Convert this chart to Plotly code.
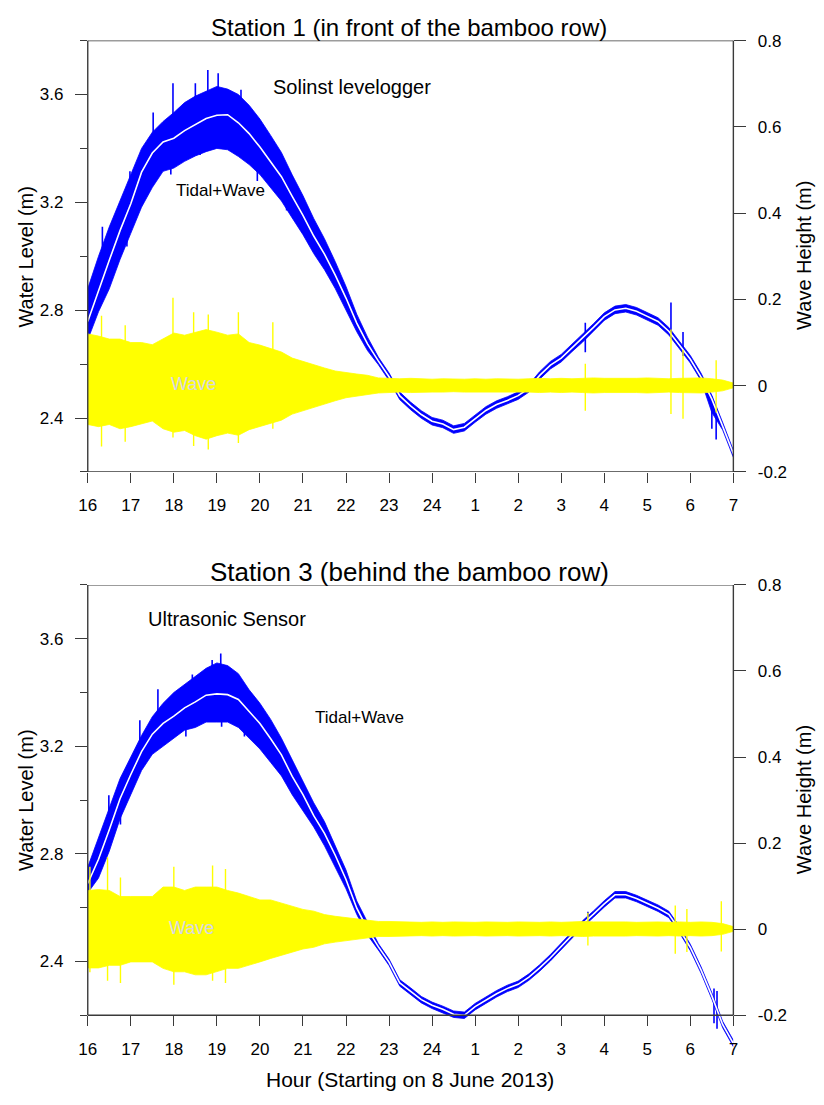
import plotly.graph_objects as go

# ---------------- data ----------------
hours = [i * 0.25 for i in range(61)]          # 0 = 16:00 ... 15 = 07:00
hour_ticks = list(range(16))
hour_labels = ['16', '17', '18', '19', '20', '21', '22', '23', '24',
               '1', '2', '3', '4', '5', '6', '7']

# Station 1 : tidal + wave (water level, m)
s1_center = [2.758, 2.875, 2.985, 3.095, 3.195, 3.312, 3.383, 3.424, 3.438, 3.466,
             3.489, 3.511, 3.523, 3.525, 3.495, 3.455, 3.405, 3.350, 3.295, 3.222,
             3.152, 3.075, 3.008, 2.930, 2.845, 2.752, 2.675, 2.612, 2.553, 2.482,
             2.445, 2.413, 2.388, 2.378, 2.357, 2.366, 2.398, 2.428, 2.450, 2.465,
             2.483, 2.510, 2.558, 2.596, 2.622, 2.660, 2.696, 2.736, 2.776, 2.801,
             2.807, 2.796, 2.777, 2.758, 2.722, 2.670, 2.618, 2.552, 2.470, 2.370,
             2.268]
s1_upper = [2.880, 3.000, 3.109, 3.206, 3.303, 3.400, 3.460, 3.500, 3.533, 3.570,
            3.594, 3.612, 3.630, 3.620, 3.600, 3.560, 3.509, 3.448, 3.385, 3.302,
            3.225, 3.140, 3.065, 2.980, 2.888, 2.785, 2.700, 2.626, 2.567, 2.496,
            2.459, 2.427, 2.402, 2.392, 2.371, 2.380, 2.412, 2.442, 2.464, 2.479,
            2.497, 2.524, 2.572, 2.610, 2.636, 2.674, 2.710, 2.750, 2.790, 2.815,
            2.821, 2.810, 2.791, 2.772, 2.736, 2.684, 2.632, 2.566, 2.484, 2.384,
            2.280]
s1_lower = [2.690, 2.794, 2.879, 2.988, 3.085, 3.182, 3.255, 3.315, 3.327, 3.352,
            3.372, 3.388, 3.400, 3.395, 3.370, 3.340, 3.303, 3.255, 3.205, 3.142,
            3.080, 3.010, 2.950, 2.880, 2.803, 2.720, 2.650, 2.598, 2.539, 2.468,
            2.431, 2.399, 2.374, 2.364, 2.343, 2.352, 2.384, 2.414, 2.436, 2.451,
            2.469, 2.496, 2.544, 2.582, 2.608, 2.646, 2.682, 2.722, 2.762, 2.787,
            2.793, 2.782, 2.763, 2.744, 2.708, 2.656, 2.604, 2.538, 2.420, 2.356,
            2.254]
# Station 1 : wave (wave height, m)
s1_wave_up = [0.120, 0.115, 0.108, 0.108, 0.100, 0.100, 0.095, 0.108, 0.122, 0.117,
              0.124, 0.130, 0.124, 0.117, 0.120, 0.100, 0.094, 0.086, 0.078, 0.064,
              0.056, 0.048, 0.041, 0.034, 0.030, 0.027, 0.024, 0.018, 0.017, 0.016,
              0.017, 0.016, 0.015, 0.016, 0.015, 0.015, 0.016, 0.015, 0.016, 0.015,
              0.015, 0.016, 0.017, 0.016, 0.017, 0.016, 0.017, 0.018, 0.017, 0.017,
              0.016, 0.017, 0.018, 0.017, 0.016, 0.017, 0.017, 0.018, 0.016, 0.013,
              0.006]
s1_wave_lo = [-0.090, -0.095, -0.090, -0.100, -0.095, -0.088, -0.082, -0.100, -0.108, -0.104,
              -0.116, -0.124, -0.116, -0.110, -0.115, -0.102, -0.095, -0.088, -0.080, -0.066,
              -0.058, -0.050, -0.043, -0.035, -0.028, -0.024, -0.020, -0.017, -0.016, -0.015,
              -0.016, -0.015, -0.015, -0.015, -0.014, -0.015, -0.015, -0.014, -0.015, -0.015,
              -0.014, -0.015, -0.016, -0.015, -0.016, -0.015, -0.016, -0.017, -0.016, -0.016,
              -0.015, -0.016, -0.017, -0.016, -0.015, -0.016, -0.016, -0.017, -0.015, -0.012,
              -0.005]
s1_blue_spike_h = [0.34, 0.91, 0.98, 1.52, 1.93, 1.98, 2.50, 2.61, 2.79, 3.03, 3.56, 3.94,
                   4.62, 11.56, 13.55, 13.83, 14.50, 14.60]
s1_blue_spike_lo = [2.950, 3.036, 3.200, 3.420, 3.303, 3.480, 3.540, 3.376, 3.560, 3.560, 3.540, 3.279,
                    3.170, 2.644, 2.700, 2.630, 2.360, 2.320]
s1_blue_spike_hi = [3.109, 3.120, 3.315, 3.533, 3.380, 3.642, 3.642, 3.440, 3.691, 3.679, 3.618, 3.380,
                    3.240, 2.753, 2.828, 2.719, 2.480, 2.440]
s1_wave_spike_h = [0.32, 0.87, 1.98, 2.46, 2.80, 3.50, 4.30, 11.56, 13.55, 13.83, 14.60]
s1_wave_spike_lo = [-0.141, -0.130, -0.120, -0.140, -0.148, -0.133, -0.100, -0.058, -0.066, -0.077, -0.062]
s1_wave_spike_hi = [0.162, 0.140, 0.204, 0.170, 0.165, 0.170, 0.147, 0.051, 0.130, 0.083, 0.059]

# Station 3 : tidal + wave (water level, m)
s3_center = [2.690, 2.780, 2.890, 3.005, 3.095, 3.180, 3.245, 3.285, 3.312, 3.343,
             3.365, 3.390, 3.395, 3.392, 3.374, 3.330, 3.285, 3.228, 3.168, 3.088,
             3.020, 2.942, 2.876, 2.795, 2.705, 2.598, 2.520, 2.455, 2.397, 2.320,
             2.290, 2.258, 2.237, 2.222, 2.204, 2.200, 2.232, 2.256, 2.280, 2.300,
             2.315, 2.342, 2.376, 2.414, 2.457, 2.500, 2.540, 2.576, 2.614, 2.648,
             2.648, 2.634, 2.616, 2.598, 2.575, 2.518, 2.452, 2.368, 2.272, 2.166,
             2.095]
s3_upper = [2.751, 2.860, 2.970, 3.080, 3.160, 3.240, 3.310, 3.360, 3.400, 3.430,
            3.460, 3.490, 3.510, 3.500, 3.470, 3.410, 3.360, 3.300, 3.230, 3.150,
            3.070, 2.990, 2.920, 2.830, 2.740, 2.625, 2.545, 2.467, 2.409, 2.332,
            2.302, 2.270, 2.249, 2.234, 2.216, 2.212, 2.244, 2.268, 2.292, 2.312,
            2.327, 2.354, 2.388, 2.426, 2.469, 2.512, 2.552, 2.588, 2.626, 2.660,
            2.660, 2.646, 2.628, 2.610, 2.587, 2.530, 2.464, 2.380, 2.284, 2.178,
            2.107]
s3_lower = [2.655, 2.710, 2.810, 2.930, 3.020, 3.110, 3.170, 3.200, 3.230, 3.260,
            3.270, 3.290, 3.290, 3.290, 3.270, 3.230, 3.190, 3.140, 3.090, 3.020,
            2.960, 2.900, 2.830, 2.750, 2.670, 2.575, 2.498, 2.443, 2.385, 2.308,
            2.278, 2.246, 2.225, 2.210, 2.192, 2.188, 2.220, 2.244, 2.268, 2.288,
            2.303, 2.330, 2.364, 2.402, 2.445, 2.488, 2.528, 2.564, 2.602, 2.636,
            2.636, 2.622, 2.604, 2.586, 2.563, 2.506, 2.440, 2.356, 2.260, 2.154,
            2.083]
# Station 3 : wave (wave height, m)
s3_wave_up = [0.090, 0.092, 0.090, 0.076, 0.076, 0.076, 0.076, 0.098, 0.098, 0.090,
              0.098, 0.098, 0.098, 0.090, 0.084, 0.076, 0.068, 0.068, 0.061, 0.053,
              0.046, 0.042, 0.034, 0.030, 0.027, 0.024, 0.022, 0.018, 0.018, 0.017,
              0.017, 0.016, 0.017, 0.016, 0.017, 0.016, 0.016, 0.017, 0.016, 0.016,
              0.017, 0.016, 0.016, 0.017, 0.016, 0.017, 0.018, 0.017, 0.017, 0.018,
              0.017, 0.016, 0.017, 0.017, 0.016, 0.017, 0.016, 0.017, 0.016, 0.013,
              0.006]
s3_wave_lo = [-0.090, -0.090, -0.084, -0.084, -0.076, -0.076, -0.076, -0.091, -0.099, -0.099,
              -0.106, -0.106, -0.099, -0.091, -0.091, -0.084, -0.076, -0.068, -0.061, -0.053,
              -0.046, -0.042, -0.034, -0.030, -0.027, -0.023, -0.021, -0.017, -0.017, -0.016,
              -0.016, -0.015, -0.016, -0.015, -0.016, -0.015, -0.015, -0.016, -0.015, -0.015,
              -0.016, -0.015, -0.015, -0.016, -0.015, -0.016, -0.017, -0.016, -0.016, -0.017,
              -0.016, -0.015, -0.016, -0.016, -0.015, -0.016, -0.015, -0.016, -0.015, -0.012,
              -0.005]
s3_blue_spike_h = [0.49, 0.76, 1.21, 1.63, 2.28, 2.43, 2.89, 3.09, 3.11, 3.64, 11.62, 14.55, 14.62]
s3_blue_spike_lo = [2.900, 2.909, 3.200, 3.320, 3.236, 3.400, 3.450, 3.450, 3.273, 3.236, 2.550, 2.170, 2.150]
s3_blue_spike_hi = [3.018, 2.990, 3.297, 3.412, 3.300, 3.467, 3.521, 3.545, 3.330, 3.290, 2.585, 2.300, 2.290]
s3_wave_spike_h = [0.05, 0.46, 0.76, 2.00, 2.90, 3.20, 11.62, 13.65, 13.92, 14.72]
s3_wave_spike_lo = [-0.100, -0.120, -0.125, -0.129, -0.120, -0.125, -0.038, -0.057, -0.053, -0.052]
s3_wave_spike_hi = [0.145, 0.167, 0.120, 0.145, 0.148, 0.140, 0.038, 0.055, 0.047, 0.065]

wl_ticks = [2.4, 2.8, 3.2, 3.6]
wl_minor = [2.2, 2.6, 3.0, 3.4, 3.8]
wh_ticks = [-0.2, 0, 0.2, 0.4, 0.6, 0.8]
wh_labels = ['-0.2', '0', '0.2', '0.4', '0.6', '0.8']

# ---------------- styling ----------------
# the page keeps its default 8 px body margin, so the figure is sized to fit the
# 824 x 1105 window exactly and every page position is shifted by that margin
PAGE_M = 8
W, H = 824 - 2 * PAGE_M, 1105 - 2 * PAGE_M
FONT = "Arial, 'Liberation Sans', sans-serif"
BLUE = '#0000FF'
YELLOW = '#FFFF00'
AXC = '#3a3a3a'


def fx(p):
    return (p - PAGE_M) / W


def fy(p):
    return 1 - (p - PAGE_M) / H


def spikes(hs, lo, hi):
    xs, ys = [], []
    for h, a, b in zip(hs, lo, hi):
        xs += [h, h, None]
        ys += [a, b, None]
    return xs, ys


fig = go.Figure()


def add_panel(xa, ya, ya2, center, upper, lower, wup, wlo, bsp, wsp):
    fig.add_trace(go.Scatter(x=hours, y=lower, mode='lines', line=dict(color=BLUE, width=0.8),
                             xaxis=xa, yaxis=ya, showlegend=False, hoverinfo='skip'))
    fig.add_trace(go.Scatter(x=hours, y=upper, mode='lines', line=dict(color=BLUE, width=0.8),
                             fill='tonexty', fillcolor=BLUE,
                             xaxis=xa, yaxis=ya, showlegend=False, hoverinfo='skip'))
    sx, sy = spikes(*bsp)
    fig.add_trace(go.Scatter(x=sx, y=sy, mode='lines', line=dict(color=BLUE, width=1.6),
                             xaxis=xa, yaxis=ya, showlegend=False, hoverinfo='skip'))
    fig.add_trace(go.Scatter(x=hours, y=center, mode='lines', line=dict(color='white', width=1.6),
                             xaxis=xa, yaxis=ya, showlegend=False, hoverinfo='skip'))
    fig.add_trace(go.Scatter(x=hours, y=wlo, mode='lines', line=dict(color=YELLOW, width=0.8),
                             xaxis=xa, yaxis=ya2, showlegend=False, hoverinfo='skip'))
    fig.add_trace(go.Scatter(x=hours, y=wup, mode='lines', line=dict(color=YELLOW, width=0.8),
                             fill='tonexty', fillcolor=YELLOW,
                             xaxis=xa, yaxis=ya2, showlegend=False, hoverinfo='skip'))
    sx, sy = spikes(*wsp)
    fig.add_trace(go.Scatter(x=sx, y=sy, mode='lines', line=dict(color=YELLOW, width=1.4),
                             xaxis=xa, yaxis=ya2, showlegend=False, hoverinfo='skip'))


add_panel('x', 'y', 'y2', s1_center, s1_upper, s1_lower, s1_wave_up, s1_wave_lo,
          (s1_blue_spike_h, s1_blue_spike_lo, s1_blue_spike_hi),
          (s1_wave_spike_h, s1_wave_spike_lo, s1_wave_spike_hi))
add_panel('x2', 'y3', 'y4', s3_center, s3_upper, s3_lower, s3_wave_up, s3_wave_lo,
          (s3_blue_spike_h, s3_blue_spike_lo, s3_blue_spike_hi),
          (s3_wave_spike_h, s3_wave_spike_lo, s3_wave_spike_hi))

tickfont = dict(family=FONT, size=17, color='black')
xdom = [fx(80), fx(737)]


def xaxis_cfg(**kw):
    d = dict(domain=xdom, range=[0, 15], tickmode='array', tickvals=hour_ticks, ticktext=hour_labels,
             ticks='outside', ticklen=10, tickwidth=1.3, tickcolor=AXC, showline=False,
             showgrid=False, zeroline=False, tickfont=tickfont, ticklabelstandoff=8)
    d.update(kw)
    return d


def yl_cfg(**kw):
    d = dict(tickmode='array', tickvals=wl_ticks, ticktext=[f'{v:.1f}' for v in wl_ticks],
             ticks='outside', ticklen=12, tickwidth=1.3, tickcolor=AXC, showline=False,
             showgrid=False, zeroline=False, tickfont=tickfont, ticklabelstandoff=8,
             minor=dict(tickmode='array', tickvals=wl_minor, ticks='outside', ticklen=7,
                        tickwidth=1.3, tickcolor=AXC, showgrid=False))
    d.update(kw)
    return d


def yr_cfg(**kw):
    d = dict(tickmode='array', tickvals=wh_ticks, ticktext=wh_labels, side='right',
             ticks='outside', ticklen=12, tickwidth=1.3, tickcolor=AXC, showline=False,
             showgrid=False, zeroline=False, tickfont=tickfont, ticklabelstandoff=8)
    d.update(kw)
    return d


# bottom panel: plotting area extended a little below the axis, because the
# tidal curve runs past the lower axis in the reference
ext = 34
px_per_m_left = (1024 - 586) / 1.6
px_per_m_right = (1024 - 586) / 1.0

fig.update_layout(
    width=W, height=H, margin=dict(l=0, r=0, t=0, b=0),
    paper_bgcolor='white', plot_bgcolor='rgba(0,0,0,0)',
    font=dict(family=FONT, color='black'),
    xaxis=xaxis_cfg(anchor='y'),
    yaxis=yl_cfg(domain=[fy(471), fy(32)], range=[2.2, 3.8], anchor='x'),
    yaxis2=yr_cfg(overlaying='y', range=[-0.2, 0.8], anchor='x'),
    xaxis2=xaxis_cfg(anchor='free', position=fy(1024)),
    yaxis3=yl_cfg(domain=[fy(1024 + ext), fy(586)],
                  range=[2.2 - ext / px_per_m_left, 3.8], anchor='x2'),
    yaxis4=yr_cfg(overlaying='y3', range=[-0.2 - ext / px_per_m_right, 0.8], anchor='x2'),
)

# frame lines
shapes = []
for xr, yr in (('x', 'y'), ('x2', 'y3')):
    line = dict(color=AXC, width=1.4)
    shapes.append(dict(type='line', xref=f'{xr} domain', yref=yr, x0=0, x1=1, y0=2.2, y1=2.2, line=line))
    shapes.append(dict(type='line', xref=f'{xr} domain', yref=yr, x0=0, x1=1, y0=3.8, y1=3.8, line=line))
    shapes.append(dict(type='line', xref=f'{xr} domain', yref=yr, x0=0, x1=0, y0=2.2, y1=3.8, line=line))
    shapes.append(dict(type='line', xref=f'{xr} domain', yref=yr, x0=1, x1=1, y0=2.2, y1=3.8, line=line))
fig.update_layout(shapes=shapes)


def ann(text, x, y, size, color='black', angle=0):
    fig.add_annotation(text=text, x=fx(x), y=fy(y), xref='paper', yref='paper',
                       xanchor='center', yanchor='middle', showarrow=False, textangle=angle,
                       font=dict(family=FONT, size=size, color=color))


ann('Station 1 (in front of the bamboo row)', 407, 19, 24)
ann('Station 3 (behind the bamboo row)', 407, 573, 26)
ann('Solinst levelogger', 349, 79, 20)
ann('Tidal+Wave', 215, 185, 17)
ann('Wave', 188, 382, 18, color='#d6d6e0')
ann('Ultrasonic Sensor', 222, 621, 20)
ann('Tidal+Wave', 357, 721, 17)
ann('Wave', 186, 935, 18, color='#d6d6e0')
ann('Water Level (m)', 17, 252, 20, angle=-90)
ann('Water Level (m)', 17, 805, 20, angle=-90)
ann('Wave Height (m)', 809, 251, 20, angle=-90)
ann('Wave Height (m)', 809, 805, 20, angle=-90)
ann('Hour (Starting on 8 June 2013)', 408, 1089, 21)

fig.write_html("out.html", config={'displayModeBar': False})
